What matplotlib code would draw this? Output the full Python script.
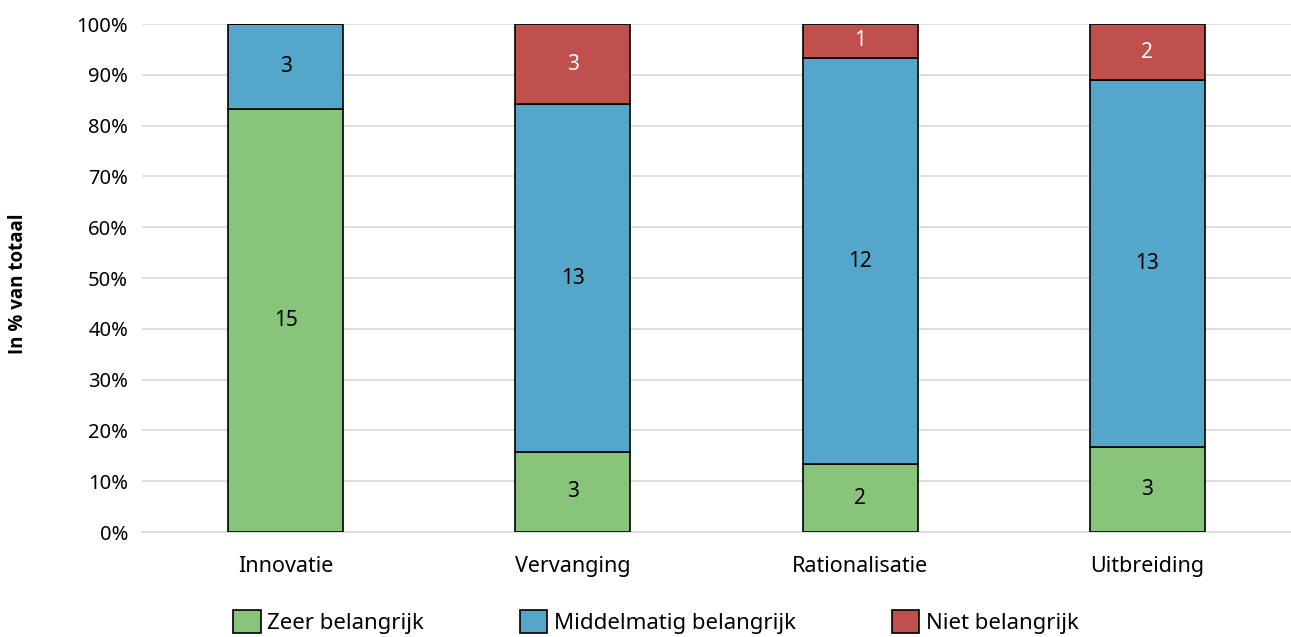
import numpy as np
import matplotlib.pyplot as plt
from matplotlib.ticker import PercentFormatter

plt.rcParams['font.family'] = ['Noto Sans', 'DejaVu Sans']

categories = ['Innovatie', 'Vervanging', 'Rationalisatie', 'Uitbreiding']
series = ['Zeer belangrijk', 'Middelmatig belangrijk', 'Niet belangrijk']
counts = {
    'Zeer belangrijk': [15, 3, 2, 3],
    'Middelmatig belangrijk': [3, 13, 12, 13],
    'Niet belangrijk': [0, 3, 1, 2],
}
colors = ['#88c47a', '#54a6ca', '#c0504d']
text_colors = ['black', 'black', 'white']

totals = np.sum([counts[s] for s in series], axis=0)
x = np.arange(len(categories))

fig = plt.figure(figsize=(12.91, 6.37), dpi=100)
ax = fig.add_axes([0.110, 0.1648, 0.890, 0.7975])

bottom = np.zeros(len(categories))
for s, c, tc in zip(series, colors, text_colors):
    vals = np.array(counts[s])
    pct = vals / totals * 100
    ax.bar(x, pct, 0.40, bottom=bottom, color=c, edgecolor='black',
           linewidth=1.2, label=s, zorder=3)
    for xi, v, p, b in zip(x, vals, pct, bottom):
        if v > 0:
            ax.text(xi, b + p / 2, str(v), ha='center', va='center',
                    fontsize=15, color=tc, zorder=4)
    bottom += pct

ax.set_xlim(-0.5, 3.5)
ax.set_ylim(0, 100)
ax.set_yticks(np.arange(0, 101, 10))
ax.yaxis.set_major_formatter(PercentFormatter(decimals=0))
ax.set_xticks(x)
ax.set_xticklabels(categories, fontsize=15.5)
ax.tick_params(axis='both', length=0)
ax.tick_params(axis='y', labelsize=14.5, pad=10)
ax.tick_params(axis='x', pad=17)
ax.grid(axis='y', color='#d9d9d9', linewidth=1.2, zorder=0)
for sp in ['top', 'right', 'left']:
    ax.spines[sp].set_visible(False)
ax.spines['bottom'].set_color('#d9d9d9')
ax.spines['bottom'].set_linewidth(1.2)

fig.text(0.014, 0.554, 'In % van totaal', rotation=90, ha='center',
         va='center', fontsize=13.5, fontweight='bold',
         family=['Open Sans', 'DejaVu Sans'])

fig.legend(loc='lower center', bbox_to_anchor=(0.508, -0.027), ncol=3,
           frameon=False, fontsize=16, handlelength=1.25, handleheight=1.25,
           handletextpad=0.3, columnspacing=4.3)

fig.savefig('out.png', dpi=100)
